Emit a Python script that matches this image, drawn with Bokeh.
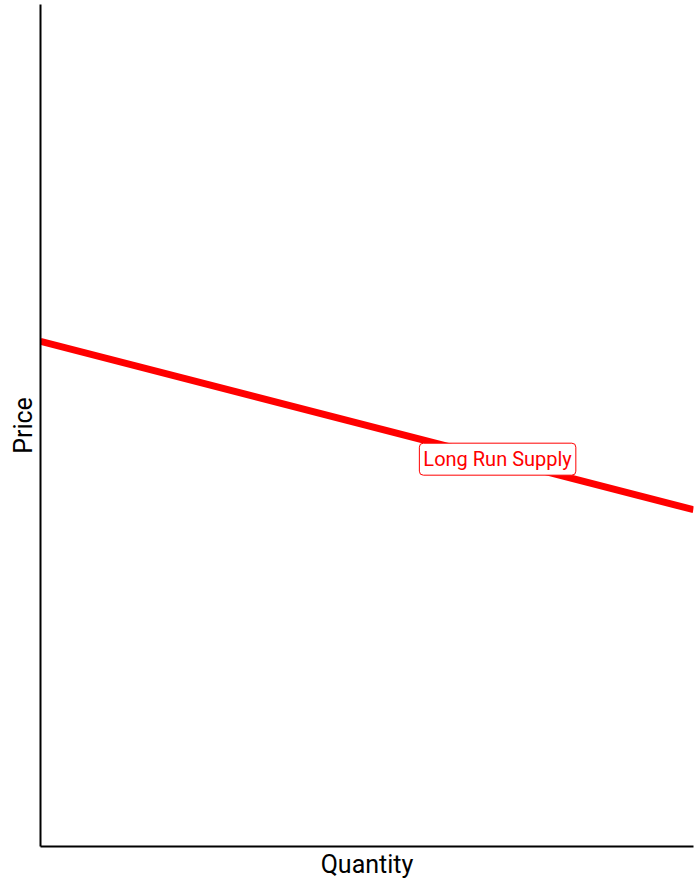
from bokeh.plotting import figure
from bokeh.models import Range1d, Label, FixedTicker
from bokeh.embed import file_html
from bokeh.resources import INLINE

quantity = [0, 10]
price = [6, 4]
label_text = "Long Run Supply"
label_x = 7
label_y = 4.6

FONT = "Roboto"

p = figure(width=696, height=881, output_backend="svg", toolbar_location=None,
           x_range=Range1d(0, 10), y_range=Range1d(0, 10),
           min_border_left=40, min_border_top=4, min_border_right=3, min_border_bottom=33)
p.outline_line_color = None
p.grid.visible = False
p.background_fill_color = "white"
p.border_fill_color = "white"

for ax in (p.xaxis[0], p.yaxis[0]):
    ax.ticker = FixedTicker(ticks=[])
    ax.major_tick_line_color = None
    ax.minor_tick_line_color = None
    ax.major_label_text_font_size = "0px"
    ax.axis_line_color = "black"
    ax.axis_line_width = 2
    ax.axis_label_text_font = FONT
    ax.axis_label_text_font_size = "25px"
    ax.axis_label_text_font_style = "normal"
    ax.axis_label_text_color = "black"
    ax.axis_label_standoff = 3
p.xaxis.axis_label = "Quantity"
p.yaxis.axis_label = "Price"

p.line(quantity, price, line_color="#ff0000", line_width=7)

lbl = Label(x=label_x, y=label_y, text=label_text, text_align="center", text_baseline="middle",
            text_color="#ff0000", text_font=FONT, text_font_size="20px",
            background_fill_color="white", border_line_color="#ff0000", border_line_width=1,
            border_radius=4, padding=4)
p.add_layout(lbl)

open("out.html", "w").write(file_html(p, INLINE))
